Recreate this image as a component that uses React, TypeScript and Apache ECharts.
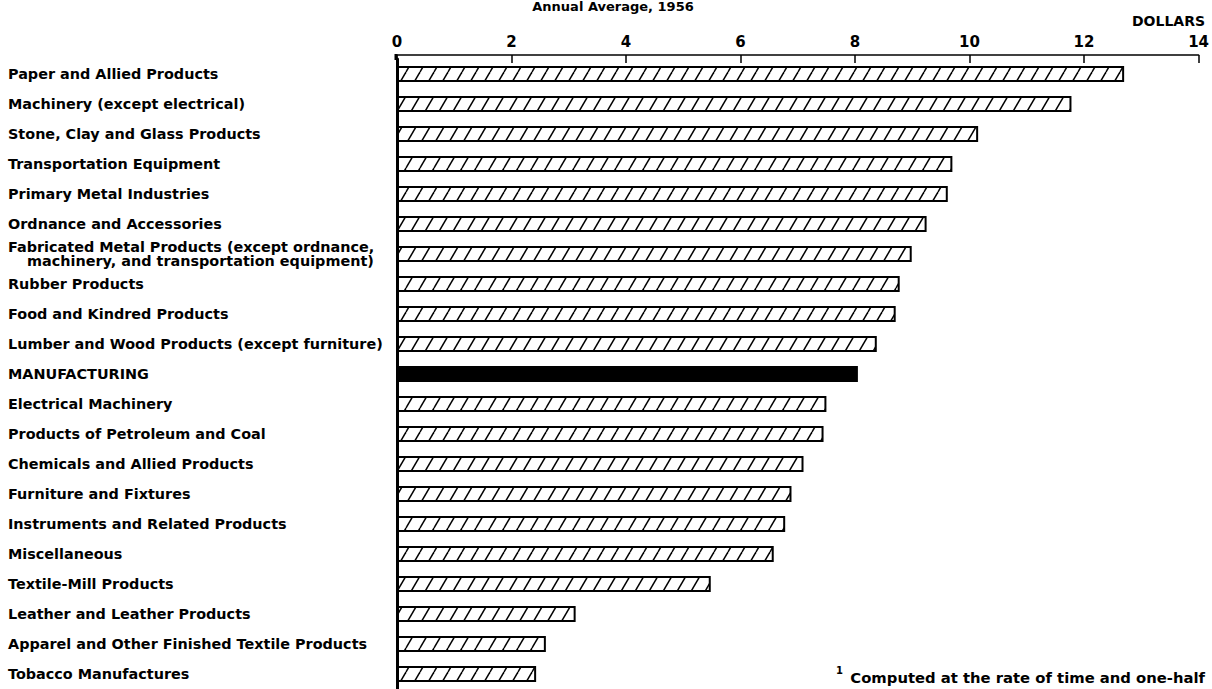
import React, { useEffect, useRef } from "react";
import * as echarts from "echarts";

const categories: string[] = [
  "Paper and Allied Products",
  "Machinery (except electrical)",
  "Stone, Clay and Glass Products",
  "Transportation Equipment",
  "Primary Metal Industries",
  "Ordnance and Accessories",
  "Fabricated Metal Products (except ordnance,\nmachinery, and transportation equipment)",
  "Rubber Products",
  "Food and Kindred Products",
  "Lumber and Wood Products (except furniture)",
  "MANUFACTURING",
  "Electrical Machinery",
  "Products of Petroleum and Coal",
  "Chemicals and Allied Products",
  "Furniture and Fixtures",
  "Instruments and Related Products",
  "Miscellaneous",
  "Textile-Mill Products",
  "Leather and Leather Products",
  "Apparel and Other Finished Textile Products",
  "Tobacco Manufactures",
];

const overtimeEarnings: number[] = [
  12.7, 11.78, 10.15, 9.7, 9.62, 9.25, 8.99, 8.78, 8.71, 8.38, 8.05, 7.5, 7.45,
  7.1, 6.89, 6.78, 6.58, 5.48, 3.12, 2.6, 2.43,
];

const highlightCategory = "MANUFACTURING";
const xTicks = { min: 0, max: 14, interval: 2 };
const titleText = "Annual Average, 1956";
const unitText = "DOLLARS";
const footnoteMark = "1";
const footnoteText = "Computed at the rate of time and one-half";

const FONT = "'DejaVu Sans', sans-serif";
const LABEL_SIZE = 14.4;

function makeHatch(): HTMLCanvasElement {
  const w = 14;
  const h = 24;
  const c = document.createElement("canvas");
  c.width = w;
  c.height = h;
  const ctx = c.getContext("2d")!;
  ctx.fillStyle = "#ffffff";
  ctx.fillRect(0, 0, w, h);
  ctx.strokeStyle = "#000000";
  ctx.lineWidth = 1.5;
  for (const off of [-w, 0, w]) {
    ctx.beginPath();
    ctx.moveTo(off, h);
    ctx.lineTo(off + w, 0);
    ctx.stroke();
  }
  return c;
}

export default function App() {
  const ref = useRef<HTMLDivElement>(null);

  useEffect(() => {
    if (!ref.current) return;
    const chart = echarts.init(ref.current, undefined, { renderer: "svg" });
    const hatch = {
      image: makeHatch(),
      repeat: "repeat",
      imageWidth: 14,
      imageHeight: 24,
    };

    const data = overtimeEarnings.map((v, i) => ({
      value: v,
      itemStyle:
        categories[i] === highlightCategory
          ? { color: "#000000", borderColor: "#000000" }
          : { color: hatch as any, borderColor: "#000000" },
    }));

    chart.setOption({
      animation: false,
      backgroundColor: "#ffffff",
      textStyle: { fontFamily: FONT },
      grid: { left: 397, right: 13, top: 59, height: 632, containLabel: false },
      xAxis: {
        type: "value",
        position: "top",
        min: xTicks.min,
        max: xTicks.max,
        interval: xTicks.interval,
        offset: 4,
        axisLine: { show: true, lineStyle: { color: "#000", width: 1.5 } },
        axisTick: { show: true, inside: true, length: 8, lineStyle: { color: "#000", width: 1.5 } },
        axisLabel: {
          color: "#000",
          fontFamily: FONT,
          fontWeight: "bold",
          fontSize: 15,
          margin: 6,
        },
        splitLine: { show: false },
      },
      yAxis: {
        type: "category",
        inverse: true,
        data: categories,
        axisLine: { show: true, lineStyle: { color: "#000", width: 3 } },
        axisTick: { show: false },
        axisLabel: {
          align: "left",
          margin: 389,
          color: "#000",
          fontFamily: FONT,
          fontWeight: "bold",
          fontSize: LABEL_SIZE,
          formatter: (v: string) => {
            const lines = v.split("\n");
            return lines
              .map((l, i) => (i === 0 ? `{a|${l}}` : `{b|${l}}`))
              .join("\n");
          },
          rich: {
            a: { fontFamily: FONT, fontWeight: "bold", fontSize: LABEL_SIZE, lineHeight: 14, color: "#000" },
            b: {
              fontFamily: FONT,
              fontWeight: "bold",
              fontSize: LABEL_SIZE,
              lineHeight: 14,
              color: "#000",
              padding: [0, 0, 0, 19],
            },
          },
        },
        splitLine: { show: false },
      },
      series: [
        {
          type: "bar",
          data,
          barWidth: 16,
          itemStyle: { borderColor: "#000", borderWidth: 2 },
          silent: true,
        },
      ],
      graphic: [
        {
          type: "rect",
          shape: { x: 394.5, y: 54, width: 3, height: 6 },
          style: { fill: "#000" },
          silent: true,
        },
        {
          type: "text",
          x: 613,
          y: 0,
          style: {
            text: titleText,
            fill: "#000",
            font: `bold 13px ${FONT}`,
            align: "center",
            verticalAlign: "top",
          },
          silent: true,
        },
        {
          type: "text",
          x: 1205,
          y: 21,
          style: {
            text: unitText,
            fill: "#000",
            font: `bold 14px ${FONT}`,
            align: "right",
            verticalAlign: "middle",
          },
          silent: true,
        },
        {
          type: "text",
          x: 836,
          y: 670,
          style: {
            text: footnoteMark,
            fill: "#000",
            font: `bold 10px ${FONT}`,
            align: "left",
            verticalAlign: "middle",
          },
          silent: true,
        },
        {
          type: "text",
          x: 1205,
          y: 677,
          style: {
            text: footnoteText,
            fill: "#000",
            font: `bold 14.8px ${FONT}`,
            align: "right",
            verticalAlign: "middle",
          },
          silent: true,
        },
      ],
    });

    return () => {
      chart.dispose();
    };
  }, []);

  return (
    <div
      ref={ref}
      style={{
        position: "absolute",
        left: 0,
        top: 0,
        width: 1212,
        height: 689,
        background: "#ffffff",
      }}
    />
  );
}
